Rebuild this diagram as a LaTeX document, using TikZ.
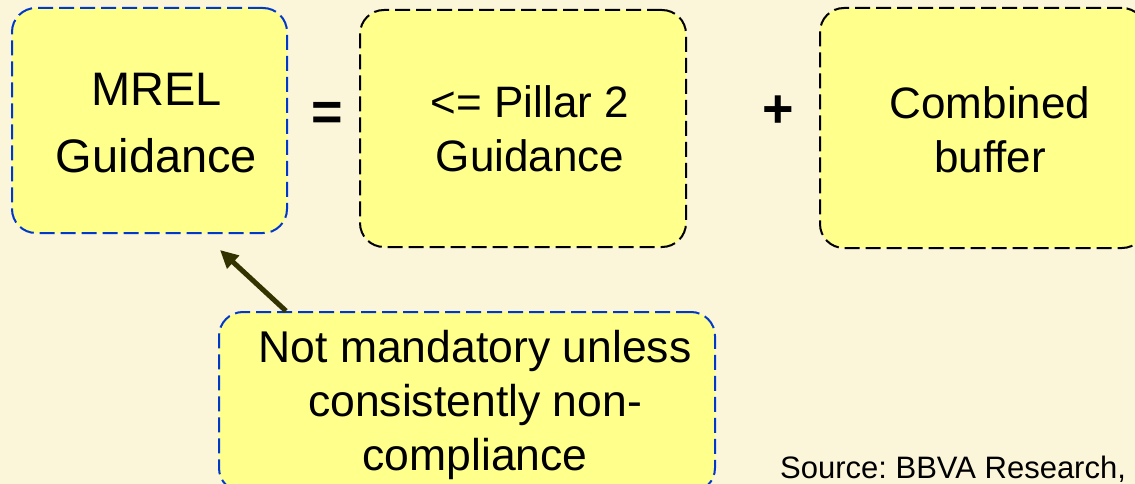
\documentclass[tikz,border=0pt]{standalone}
\usepackage{fontspec}
\setmainfont{Liberation Sans}
\usetikzlibrary{arrows.meta}
\definecolor{bgcream}{RGB}{251,246,217}
\definecolor{boxyellow}{RGB}{255,255,140}
\definecolor{dashblue}{RGB}{0,56,204}
\definecolor{arrowolive}{RGB}{51,51,0}
\begin{document}
\begin{tikzpicture}[x=1pt,y=-1pt,
  guidebox/.style={rectangle, rounded corners=24pt, fill=boxyellow, dash pattern=on 15pt off 6pt, line width=2pt, inner sep=0pt},
  bluebox/.style={guidebox, draw=dashblue},
  blackbox/.style={guidebox, draw=black},
  boxtext/.style={align=center, inner sep=0pt, font=\fontsize{44}{54}\selectfont},
  sign/.style={inner sep=0pt, font=\fontsize{54}{54}\selectfont\bfseries},
  pointer/.style={draw=arrowolive, line width=5pt, -{Triangle[length=18pt,width=17pt]}}]
\path[use as bounding box, fill=bgcream] (0,0) rectangle (1135,484);
\clip (0,0) rectangle (1135,484);
\node [bluebox, minimum width=275pt, minimum height=225pt] (mrel) at (149.5,120.5) {};
\node [blackbox, minimum width=326pt, minimum height=237pt] (pillar) at (523,128.5) {};
\node [blackbox, minimum width=326pt, minimum height=240pt] (buffer) at (983,128) {};
\node [bluebox, minimum width=496pt, minimum height=180pt] (note) at (467,402) {};
\node [boxtext, font=\fontsize{47}{67}\selectfont] (mreltext) at (156.5,122.6) {MREL\\Guidance};
\node [boxtext] (pillartext) at (530,129.2) {<= Pillar 2\\Guidance};
\node [boxtext] (buffertext) at (990,130) {Combined\\buffer};
\node [boxtext, font=\fontsize{44.5}{54}\selectfont] (notetext) at (475,404.7) {Not mandatory unless\\consistently non-\\compliance};
\node [sign] (eqsign) at (327,116) {=};
\node [sign] (plussign) at (778,112) {+};
\node [anchor=base west, inner sep=0pt, font=\fontsize{31}{31}\selectfont] (source) at (780,478) {Source:\ BBVA Research,};
\draw [pointer] ([xshift=68pt]note.north west) -- ([xshift=209pt,yshift=-16pt]mrel.south west);
\end{tikzpicture}
\end{document}
